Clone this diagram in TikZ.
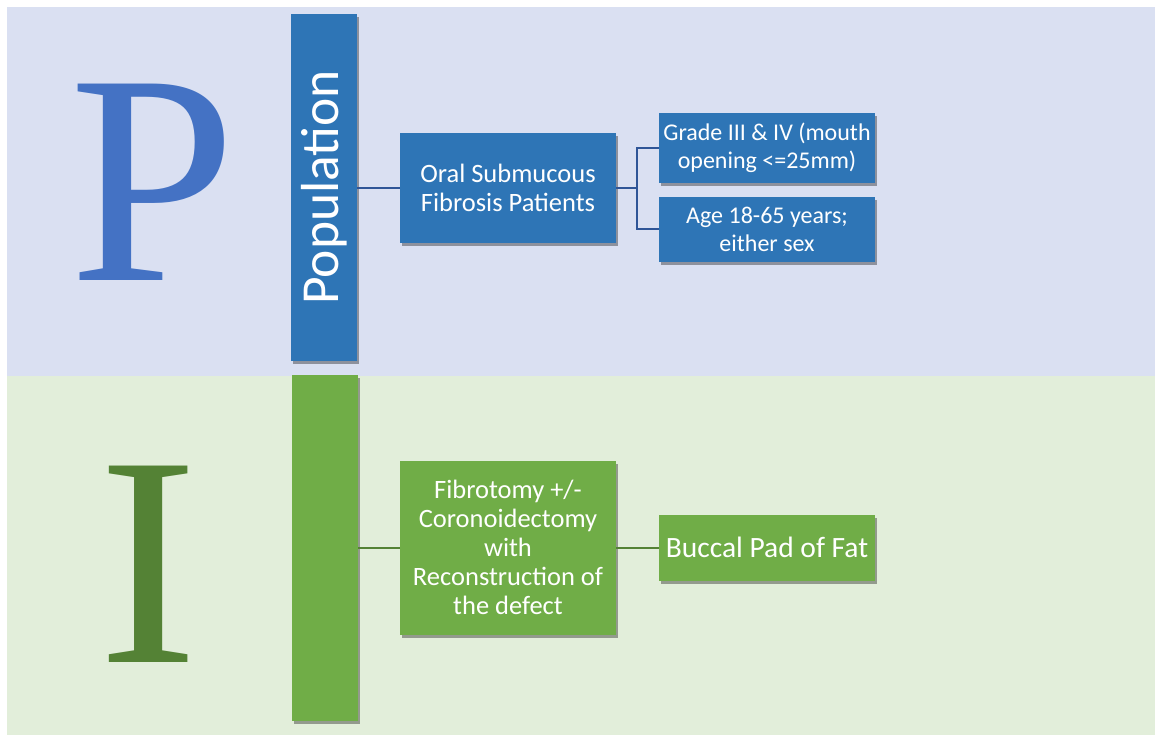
\documentclass[tikz,border=0pt]{standalone}
\usepackage{fontspec}
\setsansfont{Carlito}
\newfontfamily\bigserif{Liberation Serif}
\usetikzlibrary{shadows}
\definecolor{bgblue}{HTML}{DAE0F2}
\definecolor{bggreen}{HTML}{E2EEDA}
\definecolor{boxblue}{HTML}{2E75B6}
\definecolor{boxgreen}{HTML}{70AD47}
\definecolor{lineblue}{HTML}{2F5597}
\definecolor{linegreen}{HTML}{548235}
\definecolor{letterblue}{HTML}{4472C4}
\definecolor{lettergreen}{HTML}{548235}
\tikzset{
  shad/.style={drop shadow={shadow xshift=2pt, shadow yshift=-3pt, opacity=0.35, fill=black}},
  box/.style={shad, draw=none, minimum width=216pt, inner sep=1pt, align=center, text=white,
    font=\sffamily\fontsize{26.5}{29}\selectfont},
  smallbox/.style={box, font=\sffamily\fontsize{24}{27.5}\selectfont},
  bluebox/.style={fill=boxblue},
  greenbox/.style={fill=boxgreen},
  bar/.style={shad, draw=none, minimum width=346pt, minimum height=66pt, inner sep=0pt, rotate=90,
    text=white, font=\sffamily\fontsize{53.5}{60}\selectfont},
  bigletter/.style={anchor=base, inner sep=0pt, font=\bigserif\fontsize{300}{300}\selectfont},
  bline/.style={draw=lineblue, line width=2pt},
  gline/.style={draw=linegreen, line width=2pt}
}
\begin{document}
\begin{tikzpicture}[x=1pt,y=-1pt]
\useasboundingbox (0,0) rectangle (1155,735);
\fill[white] (0,0) rectangle (1155,735);
\fill[bgblue] (7,7) rectangle (1155,375.5);
\fill[bggreen] (7,375.5) rectangle (1155,735);

\node[bigletter, text=letterblue] (pletter) at (153,280) {P};
\node[bigletter, text=lettergreen] (iletter) at (148.5,662) {I};

\node[bar, fill=boxblue] (pop) at (324,187.5) {Population};
\node[bar, fill=boxgreen] (intv) at (324.5,548) {};

\node[box, bluebox, minimum height=110pt] (oral) at (508,188) {Oral Submucous\\Fibrosis Patients};
\node[smallbox, bluebox, minimum height=70pt] (grade) at (767,148) {Grade III \& IV (mouth\\opening <=25mm)};
\node[smallbox, bluebox, minimum height=65pt] (age) at (767,229.5) {Age 18-65 years;\\either sex};

\node[box, greenbox, minimum height=174pt] (fibro) at (508,547.5) {Fibrotomy +/-\\Coronoidectomy\\with\\Reconstruction of\\the defect};
\node[box, greenbox, minimum height=66pt, font=\sffamily\fontsize{29.5}{33}\selectfont] (buccal) at (767,547.5) {Buccal Pad of Fat};

\coordinate (fork) at (637,188);
\draw[bline] (oral.west) -- (oral.west -| pop.south);
\draw[bline] (oral.east) -- (fork);
\draw[bline] (grade.west) -| (fork) |- (age.west);

\draw[gline] (fibro.west) -- (fibro.west -| intv.south);
\draw[gline] (fibro.east) -- (buccal.west);
\end{tikzpicture}
\end{document}
